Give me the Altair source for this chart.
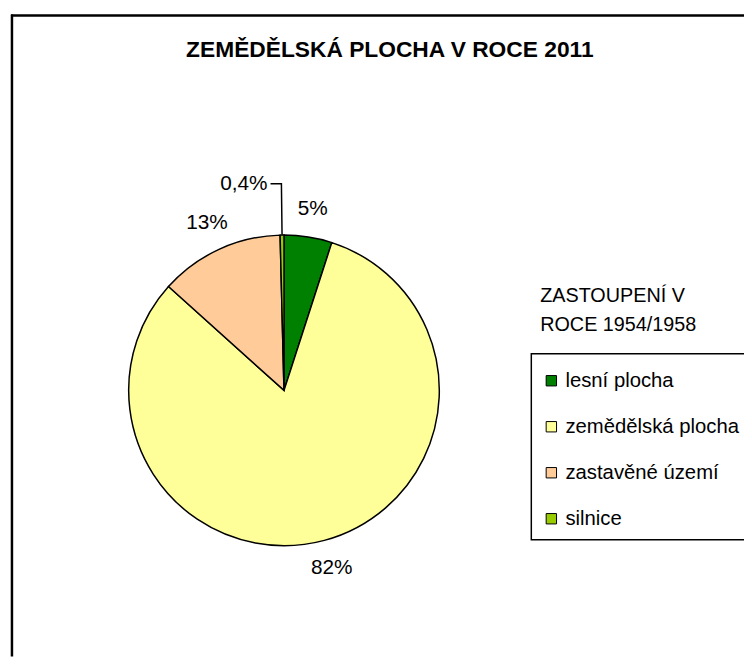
import math
import altair as alt
import pandas as pd

# ---- data ----
categories = ["lesní plocha", "zemědělská plocha", "zastavěné území", "silnice"]
values = [5.0, 82.0, 13.0, 0.4]
labels = ["5%", "82%", "13%", "0,4%"]
colors = ["#008000", "#FFFF99", "#FFCC99", "#99CC00"]
chart_title = "ZEMĚDĚLSKÁ PLOCHA V ROCE 2011"
legend_title = ["ZASTOUPENÍ V", "ROCE 1954/1958"]

# ---- layout constants ----
W, H = 744, 652
CX, CY, R = 279, 383, 157
LABEL_R = 186
LEADER_R = 209
FONT = "Liberation Sans"

df = pd.DataFrame({
    "category": categories,
    "value": values,
    "label": labels,
    "idx": list(range(len(categories))),
})

# leader line for the smallest slice, derived from the data
total = sum(values)
cum_before = sum(values[:3])
mid = 2 * math.pi * (cum_before + values[3] / 2) / total
edge = (CX + R * math.sin(mid), CY - R * math.cos(mid))
elbow = (CX + LEADER_R * math.sin(mid), CY - LEADER_R * math.cos(mid))
end = (elbow[0] - 11, elbow[1])
leader_df = pd.DataFrame({
    "px": [edge[0], elbow[0], end[0]],
    "py": [edge[1], elbow[1], end[1]],
    "o": [0, 1, 2],
})
small_df = pd.DataFrame({"px": [end[0] - 3], "py": [end[1]], "label": [labels[3]]})

base = alt.Chart(df)

pie = base.mark_arc(outerRadius=R, stroke="black", strokeWidth=1.5).encode(
    theta=alt.Theta("value:Q", stack=True),
    color=alt.Color(
        "category:N",
        scale=alt.Scale(domain=categories, range=colors),
        sort=categories,
        legend=alt.Legend(
            orient="none", legendX=529, legendY=346, title=" ",
            titleFontSize=2, titlePadding=5,
            strokeColor="black", fillColor="white",
            padding=10, symbolType="square", symbolSize=110,
            symbolStrokeColor="black", symbolStrokeWidth=1,
            labelFont=FONT, labelFontSize=20.5, labelColor="black",
            rowPadding=25.5, labelOffset=4, labelLimit=400,
        ),
    ),
    order=alt.Order("idx:Q"),
    x=alt.value(CX),
    y=alt.value(CY),
)

text = base.mark_text(radius=LABEL_R, font=FONT, fontSize=21, color="black").encode(
    theta=alt.Theta("value:Q", stack=True),
    text=alt.Text("lbl:N"),
    order=alt.Order("idx:Q"),
    x=alt.value(CX),
    y=alt.value(CY),
).transform_calculate(
    lbl="datum.idx < 3 ? datum.label : ''"
)

leader = alt.Chart(leader_df).mark_line(color="black", strokeWidth=1.5).encode(
    x=alt.X("px:Q", scale=None),
    y=alt.Y("py:Q", scale=None),
    order="o:Q",
)

small_label = alt.Chart(small_df).mark_text(
    font=FONT, fontSize=21, align="right", baseline="middle", color="black"
).encode(
    x=alt.X("px:Q", scale=None),
    y=alt.Y("py:Q", scale=None),
    text="label:N",
)

title_mark = alt.Chart(pd.DataFrame({"t": [chart_title]})).mark_text(
    font=FONT, fontSize=23, fontWeight="bold", align="center", baseline="middle", color="black"
).encode(x=alt.value(386), y=alt.value(39), text="t:N")

leg_title = alt.Chart(pd.DataFrame({"t": ["\n".join(legend_title)]})).mark_text(
    font=FONT, fontSize=20, align="left", baseline="middle", color="black",
    lineBreak="\n", lineHeight=29,
).encode(x=alt.value(538), y=alt.value(288), text="t:N")

frame_left = alt.Chart(pd.DataFrame({"a": [0]})).mark_rule(color="black", strokeWidth=2.5).encode(
    x=alt.value(4), y=alt.value(3), y2=alt.value(H)
)
frame_top = alt.Chart(pd.DataFrame({"a": [0]})).mark_rule(color="black", strokeWidth=2.5).encode(
    x=alt.value(3), x2=alt.value(W), y=alt.value(4)
)

chart = alt.layer(
    frame_left, frame_top, pie, text, leader, small_label, title_mark, leg_title
).properties(
    width=W, height=H, padding=0, autosize=alt.AutoSizeParams(type="none"),
    background="white",
).configure_view(stroke=None).configure_legend(strokeWidth=1.5)

chart.save("out.html", embed_options={"renderer": "svg", "actions": False})
